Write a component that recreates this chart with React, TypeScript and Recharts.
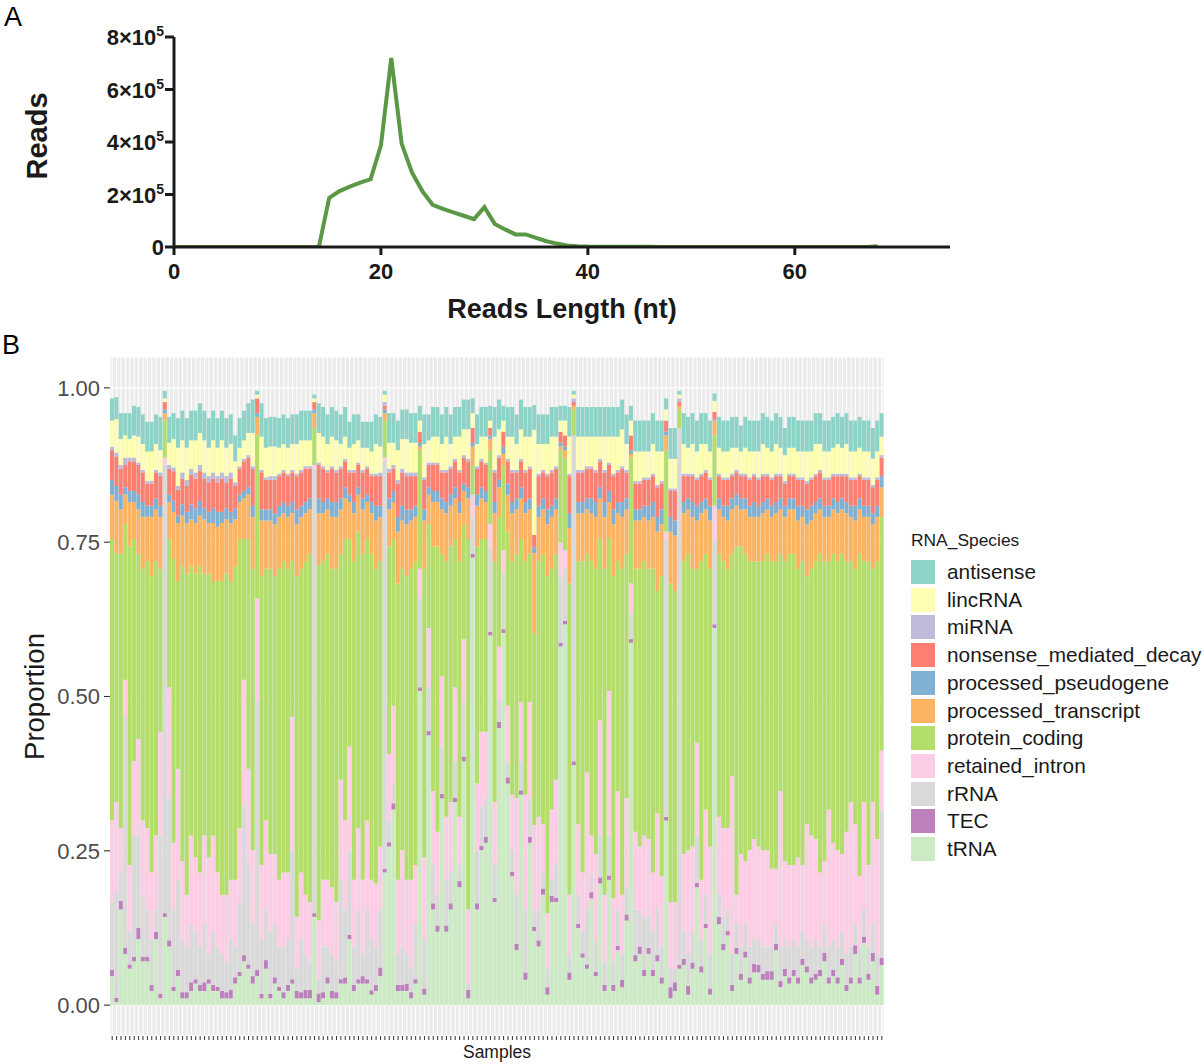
import React from "react";
import { LineChart, Line, XAxis, YAxis, BarChart, Bar, CartesianGrid, Legend } from "recharts";

const FONT = '"Liberation Sans", Arial, Helvetica, sans-serif';

// ---- panel A: read length distribution ----
const readLengths = [
  0, 1, 2, 3, 4, 5, 6, 7, 8, 9, 10, 11, 12, 13, 14, 15, 16, 17, 18, 19, 20, 21, 22, 23, 24, 25, 26, 27, 28, 29, 30, 31, 32, 33,
  34, 35, 36, 37, 38, 39, 40, 41, 42, 43, 44, 45, 46, 47, 48, 49, 50, 51, 52, 53, 54, 55, 56, 57, 58, 59, 60, 61, 62, 63, 64,
  65, 66, 67, 68,
];
const readCounts = [
  0, 0, 0, 0, 0, 0, 0, 0, 0, 0, 0, 0, 0, 0, 0, 187000, 213000, 230000, 245000, 258000, 387000, 720000, 394000, 284000, 213000,
  161000, 145000, 132000, 119000, 106000, 152000, 88000, 67000, 48000, 48000, 35000, 22000, 13000, 6000, 3000, 1500, 1200, 1000,
  800, 700, 600, 500, 450, 400, 350, 300, 300, 250, 250, 200, 200, 200, 150, 150, 150, 100, 100, 100, 100, 100, 100, 100, 100,
  3000,
];
const xTicksA = [0, 20, 40, 60];
const yTicksA = [0, 200000, 400000, 600000, 800000];

// ---- panel B: RNA species proportion per sample (percent) ----
const tRNA = [
  4.7, 0.5, 15.5, 8.3, 5.9, 7.1, 10.7, 7.1, 7.1, 2.3,
  10.7, 1.1, 14.3, 9.5, 2.3, 4.7, 1.1, 1.1, 2.3, 3.5,
  2.3, 2.3, 3.5, 2.3, 2.3, 1.1, 1.1, 1.1, 3.5, 4.7,
  7.1, 5.9, 3.5, 4.7, 1.1, 5.9, 1.1, 3.5, 2.3, 1.1,
  2.3, 3.5, 1.1, 1.1, 1.1, 1.1, 14.3, 0.5, 1.1, 3.5,
  1.1, 1.1, 3.5, 3.5, 10.7, 2.3, 3.5, 3.5, 3.5, 1.7,
  2.3, 4.7, 21.5, 25.7, 31.7, 2.3, 2.3, 2.3, 1.1, 3.5,
  50.9, 1.7, 43.7, 15.5, 11.9, 33.5, 11.9, 15.5, 32.9, 19.1,
  39.5, 1.1, 72.5, 15.5, 25.1, 26.3, 59.9, 16.7, 44.9, 60.3,
  35.9, 20.9, 8.9, 34.1, 4.1, 26.3, 12, 9.5, 17.9, 1.7,
  16.7, 16.7, 58.1, 61.7, 4.1, 38.9, 12.5, 7.7, 5.9, 17.3,
  4.7, 19.7, 2.3, 20.3, 2.3, 8.9, 2.9, 13.7, 58.7, 7.1,
  8.3, 4.7, 8.3, 4.7, 7.1, 3.5, 29.9, 1.1, 2.3, 5.9,
  6.5, 1.7, 5.9, 19.1, 5.3, 12.5, 1.7, 61.1, 13.1, 8.9,
  11.3, 2.3, 8.3, 4.1, 7.7, 3.5, 5.3, 5.3, 4.1, 4.1,
  4.1, 8.9, 2.9, 4.7, 3.5, 4.7, 3.5, 6.5, 5.3, 3.5,
  4.1, 4.7, 7.1, 3.5, 4.7, 3.5, 6.5, 2.3, 3.5, 8.3,
  3.5, 10.1, 4.1, 7.1, 1.7, 6.5,
];
const TEC = [
  1.0, 0.7, 1.4, 1.0, 0.7, 0.7, 1.8, 0.7, 0.7, 1.0,
  1.2, 0.7, 0.6, 1.0, 0.7, 1.0, 1.0, 1.0, 1.4, 0.7,
  1.0, 1.4, 0.7, 1.0, 0.7, 1.2, 1.0, 1.4, 1.0, 0.7,
  1.0, 0.7, 1.2, 1.0, 0.7, 1.4, 0.7, 1.0, 0.7, 1.0,
  1.0, 0.7, 1.2, 1.0, 1.4, 1.4, 0.6, 1.4, 1.0, 1.0,
  1.2, 1.0, 0.7, 1.0, 0.7, 1.0, 0.7, 1.2, 0.7, 0.7,
  1.0, 1.4, 0.6, 0.7, 1.0, 1.0, 1.0, 1.2, 1.0, 0.7,
  0.6, 1.0, 0.7, 1.0, 1.0, 0.7, 1.0, 1.0, 0.7, 1.0,
  0.7, 1.4, 0.6, 1.0, 0.7, 1.0, 0.6, 0.7, 1.0, 0.6,
  1.0, 0.7, 1.0, 0.7, 1.2, 1.0, 0.7, 1.0, 1.0, 1.2,
  1.0, 0.7, 0.6, 0.6, 1.2, 0.6, 0.7, 0.7, 0.7, 1.0,
  0.7, 1.0, 1.0, 0.7, 1.0, 0.7, 1.2, 1.0, 0.6, 1.0,
  1.2, 1.0, 1.0, 1.0, 1.0, 1.0, 0.6, 1.8, 1.4, 0.6,
  1.0, 1.4, 1.0, 0.7, 1.0, 0.7, 1.0, 0.6, 1.2, 1.0,
  0.7, 1.0, 1.0, 1.0, 1.0, 1.0, 1.4, 1.2, 1.0, 1.4,
  1.4, 1.0, 1.0, 1.2, 1.0, 1.0, 1.0, 1.0, 1.0, 1.0,
  1.0, 1.0, 1.4, 1.0, 1.0, 1.0, 1.0, 1.0, 1.0, 1.4,
  1.0, 1.0, 1.0, 1.4, 1.4, 1.2,
];
const rRNA = [
  11.0, 17.3, 4.6, 37.4, 5.3, 19.7, 15.0, 10.1, 7.7, 7.4,
  3.6, 25.7, 72.6, 23.0, 12.5, 14.6, 8.6, 7.4, 9.4, 7.7,
  6.2, 9.4, 4.1, 8.6, 6.5, 6.0, 5.0, 8.2, 5.0, 11.3,
  24.2, 16.1, 8.4, 43.4, 8.9, 8.2, 10.1, 8.6, 6.5, 7.4,
  7.4, 20.9, 3.6, 8.6, 5.8, 4.6, 72.0, 2.2, 7.4, 5.0,
  6.0, 5.0, 16.1, 11.0, 13.7, 6.2, 11.3, 3.6, 11.3, 8.3,
  6.2, 9.4, 66.0, 3.5, 3.2, 5.0, 6.2, 4.8, 3.8, 8.9,
  14.4, 8.0, 7.1, 6.2, 5.0, 7.7, 7.4, 5.0, 5.9, 2.6,
  8.9, 1.0, 6.0, 8.6, 6.5, 6.2, 13.8, 5.3, 3.2, 9.2,
  2.6, 3.5, 8.0, 4.7, 10.2, 6.2, 2.5, 5.0, 2.6, 3.0,
  2.6, 5.3, 10.8, 8.4, 3.0, 52.8, 4.7, 3.5, 8.9, 3.2,
  5.3, 6.8, 3.8, 6.5, 3.8, 5.9, 4.2, 4.4, 4.2, 7.4,
  6.0, 8.6, 5.0, 6.2, 7.4, 5.0, 45.0, 3.0, 2.2, 87.0,
  4.4, 5.2, 5.0, 7.7, 4.4, 4.7, 5.6, 13.8, 3.6, 4.4,
  3.5, 5.0, 3.8, 4.4, 4.4, 5.0, 4.0, 4.2, 4.4, 4.0,
  4.0, 3.2, 5.6, 4.8, 5.0, 5.0, 5.0, 4.4, 4.4, 5.0,
  5.6, 3.8, 4.6, 5.0, 5.0, 5.0, 4.4, 5.0, 5.0, 3.4,
  5.0, 4.4, 4.4, 4.6, 5.2, 24.0,
];
const retainedIntron = [
  13.2, 14.4, 7.2, 6, 10.8, 12, 15.6, 12, 13.2, 10.8,
  12, 16.8, 1.2, 18, 10.8, 18, 12.6, 8.4, 14.4, 12,
  12, 14.4, 15.6, 15.6, 12, 9.6, 10.8, 9.6, 10.8, 12,
  20.4, 15.6, 12, 16.8, 12, 14.4, 12.6, 11.4, 10.8, 12,
  10.8, 21.6, 8.4, 10.8, 9.6, 9.6, 0.6, 9.6, 10.8, 10.8,
  10.8, 9.6, 16.2, 14.4, 16.8, 10.8, 13.2, 12, 14.4, 9.6,
  10.2, 10.2, 0.6, 10.8, 12.6, 12, 15.6, 12, 14.4, 9.6,
  4.8, 13.2, 9.6, 12, 10.2, 11.4, 10.2, 11.4, 12, 7.8,
  10.2, 12, 3.6, 10.8, 12, 10.8, 3.6, 10.2, 9, 3.6,
  9, 9, 15.6, 9.6, 18.6, 15.6, 14, 15, 7.8, 9,
  11.4, 13.8, 5.4, 3, 9.6, 0, 11.4, 9.6, 22.2, 6,
  13.8, 18.6, 10.8, 23.4, 10.2, 19.2, 9.6, 14.4, 4.8, 12.6,
  10.2, 13.2, 12.6, 9.6, 15.6, 11.4, 1.2, 10.8, 10.8, 0,
  12.6, 16.8, 13.8, 15, 9.6, 13.8, 17.4, 5.4, 12.6, 14.4,
  13.2, 28.8, 4.8, 15, 10.2, 15.6, 16.2, 15, 15.6, 15.6,
  12.6, 9, 25.2, 12.6, 13.2, 12, 14.4, 10.8, 18.6, 18,
  16.2, 12, 10.2, 22.2, 15.6, 15.6, 12.6, 19.8, 23.4, 16.2,
  11.4, 17.4, 13.2, 19.8, 18.6, 9.6,
];
const proteinCoding = [
  45.6, 40.4, 44.4, 25.2, 51.6, 36, 30, 40.8, 43.2, 48,
  44.4, 26.4, 6, 24, 46, 30.4, 47.8, 52, 43.6, 46,
  49.6, 42.4, 46, 41.2, 47.2, 50.8, 52, 48.4, 50.8, 46.8,
  22.8, 37.2, 45.6, 26.4, 46.8, 40.8, 46.2, 45, 50.4, 50.4,
  49.2, 25.2, 55.2, 49.2, 54, 56.4, 6, 57.6, 51.6, 52.8,
  51.6, 54, 36.6, 45.6, 33.6, 51.6, 48, 52.8, 45.6, 52.8,
  51, 46.2, 6, 33.6, 27, 48, 45.6, 49.2, 50.4, 49.2,
  19.2, 46.8, 16.8, 39.6, 46.2, 19.8, 41.4, 41.4, 24, 41.4,
  18.6, 60, 4.8, 38.4, 31.2, 31.2, 12, 39, 21, 13.8,
  28.2, 37.8, 39.6, 26.4, 37.8, 24, 31, 41.4, 43.8, 54.6,
  39, 36.6, 15, 15, 50.4, 4.2, 42.6, 50.4, 35.4, 44.4,
  46.2, 29.4, 52.8, 24.6, 52.2, 37.2, 52.8, 39.6, 20.4, 42.6,
  45, 44.4, 43.8, 49.2, 36, 48.6, 13.2, 51.6, 50.4, 3,
  47.4, 48, 45, 28.2, 51.6, 41.4, 45, 11.4, 42.6, 43.2,
  42, 36, 56.4, 49.8, 49.8, 46.8, 45, 46.2, 46.8, 48,
  49.8, 49.8, 38.4, 48.6, 50.4, 50.4, 46.8, 49.2, 40.2, 43.2,
  45, 51.6, 48.6, 40.2, 46.8, 46.8, 48.6, 43.8, 39, 41.4,
  52.2, 39, 49.2, 37.8, 45, 37.8,
];
const processedTranscript = [
  7.2, 8.4, 7.2, 4.8, 7.2, 6, 7.2, 8.4, 7.2, 9.6,
  8.4, 8.4, 1.2, 6, 7.6, 9.4, 8.2, 8.2, 7.6, 8.2,
  8.2, 8.8, 8.2, 9.4, 8.8, 9.4, 8.8, 9.4, 7.6, 6,
  6.6, 7.2, 8.4, 3, 9, 7.8, 7.8, 8.4, 8.4, 7.8,
  8.4, 7.8, 8.4, 8.4, 7.8, 7.2, 2.4, 8.4, 7.8, 7.2,
  8.4, 8.4, 7.2, 6.6, 6, 7.8, 6, 7.2, 6, 6.6,
  7.8, 7.2, 1.2, 6, 6, 8.4, 7.8, 8.4, 7.8, 7.2,
  0.6, 7.8, 4.8, 7.2, 7.2, 7.2, 7.8, 6.6, 6.6, 7.8,
  5.4, 6.6, 3, 6.6, 6.6, 6, 1.8, 7.8, 4.8, 1.8,
  6, 7.8, 7.2, 6.6, 7.8, 7.2, 13, 7.2, 7.2, 8.4,
  8.4, 7.2, 0.6, 1.2, 9, 0.6, 7.8, 7.8, 7.2, 7.8,
  8.4, 6.6, 8.4, 6, 8.4, 7.8, 8.4, 7.2, 0.6, 7.8,
  7.8, 7.2, 7.8, 8.4, 9.6, 8.4, 2.4, 8.4, 9, 0.6,
  7.8, 7.2, 8.4, 7.8, 7.8, 7.2, 7.8, 2.4, 7.2, 7.2,
  7.8, 7.2, 6.6, 6, 7.2, 7.2, 7.2, 7.2, 7.8, 7.2,
  7.2, 7.8, 7.2, 7.2, 7.2, 7.2, 7.8, 7.2, 8.4, 7.8,
  7.8, 7.2, 7.2, 7.2, 7.2, 7.8, 7.2, 7.8, 7.2, 7.8,
  7.2, 7.2, 7.2, 7.2, 7.2, 4.8,
];
const processedPseudogene = [
  2.4, 2.4, 2.4, 1.2, 1.8, 1.8, 2.4, 2.4, 1.8, 1.8,
  1.8, 1.8, 0.6, 1.2, 1.8, 1.2, 1.8, 1.8, 2.4, 2.4,
  2.4, 1.8, 1.8, 2.4, 2.4, 1.8, 1.8, 1.8, 1.8, 1.2,
  1.2, 1.2, 1.8, 0.6, 1.8, 1.8, 1.8, 1.8, 1.8, 1.8,
  1.8, 1.8, 2.4, 1.8, 1.8, 1.8, 0.6, 2.4, 1.8, 1.8,
  2.4, 2.4, 1.8, 1.8, 1.2, 1.8, 1.2, 1.8, 1.2, 1.8,
  2.4, 1.8, 0.6, 1.8, 1.8, 2.4, 2.4, 2.4, 1.8, 1.8,
  0.6, 1.8, 1.2, 1.8, 1.8, 1.8, 1.8, 1.8, 1.8, 1.8,
  1.2, 1.8, 0.6, 1.8, 1.8, 1.8, 0.6, 1.8, 1.2, 1.2,
  1.8, 1.8, 1.8, 1.8, 1.8, 1.8, 1, 1.8, 1.8, 2.4,
  1.8, 1.8, 0.6, 0.6, 2.4, 0, 1.8, 1.8, 1.8, 2.4,
  2.4, 1.8, 2.4, 1.8, 2.4, 1.8, 2.4, 1.8, 0.6, 1.8,
  1.8, 1.8, 2.4, 2.4, 2.4, 2.4, 0.6, 2.4, 2.4, 0,
  1.8, 1.8, 2.4, 2.4, 1.8, 1.8, 2.4, 0.2, 1.8, 1.8,
  2.4, 1.8, 1.8, 1.8, 1.8, 1.8, 2.4, 1.8, 1.8, 1.8,
  1.8, 1.8, 1.8, 1.8, 1.8, 1.8, 2.4, 1.8, 2.4, 2.4,
  1.8, 1.8, 1.8, 1.8, 1.8, 1.8, 1.8, 1.8, 1.8, 2.4,
  1.8, 1.8, 1.8, 1.8, 1.8, 1.8,
];
const nonsenseMediatedDecay = [
  4.8, 4.8, 4.2, 3.6, 4.8, 4.8, 4.8, 4.8, 3.6, 3.6,
  4.2, 4.8, 1.2, 4.2, 4.8, 4.2, 4.2, 4.2, 4.8, 4.8,
  4.8, 4.8, 4.8, 4.8, 4.8, 5.4, 4.2, 5.4, 3.6, 4.2,
  4.8, 4.8, 6, 2.4, 6, 4.8, 4.8, 5.4, 4.8, 4.8,
  4.8, 4.8, 5.4, 5.4, 5.4, 4.8, 1.2, 5.4, 5.4, 4.2,
  5.4, 4.8, 4.8, 4.2, 3.6, 4.8, 3.6, 4.2, 4.2, 4.2,
  4.8, 4.8, 0.6, 4.2, 3.6, 5.4, 5.4, 5.4, 5.4, 4.8,
  1.8, 4.8, 3.6, 4.2, 4.2, 4.2, 4.8, 4.2, 4.2, 4.8,
  4.2, 4.2, 2.4, 4.2, 4.2, 4.2, 1.2, 4.8, 3.6, 2.4,
  3.6, 4.8, 4.2, 4.2, 4.8, 4.8, 2, 4.8, 4.2, 5.4,
  5.4, 4.8, 1.8, 1.8, 6, 0.6, 4.8, 4.8, 4.8, 4.8,
  4.8, 4.2, 4.8, 4.2, 5.4, 4.8, 5.4, 4.2, 2.4, 4.2,
  4.2, 4.2, 4.2, 4.2, 4.8, 4.2, 1.8, 4.2, 4.8, 0.6,
  4.2, 3.6, 4.2, 4.2, 4.2, 4.2, 4.2, 1.2, 3.6, 4.2,
  4.2, 3.6, 3.6, 3.6, 3.6, 4.2, 4.2, 4.2, 4.2, 3.6,
  4.2, 4.2, 3.6, 3.6, 3.6, 3.6, 4.2, 4.2, 4.2, 4.2,
  4.2, 4.2, 4.2, 4.2, 3.6, 4.2, 3.6, 4.2, 4.2, 4.2,
  3.6, 4.2, 4.2, 4.2, 4.2, 3,
];
const miRNA = [
  0.6, 0.6, 0.6, 1.2, 0.6, 0.6, 0.4, 0.4, 0.4, 0.4,
  0.4, 0.6, 0, 0.6, 0.6, 0.6, 1, 1, 1, 1,
  1, 1, 1, 1, 1, 1, 1, 1, 0.6, 0.4,
  0.4, 0.4, 0.4, 0, 0.4, 0.4, 0.6, 0.6, 0.4, 0.4,
  0.4, 0.4, 0.4, 0.4, 0.4, 0.4, 0, 0.4, 0.4, 0.4,
  0.4, 0.4, 0.4, 0.4, 0.4, 0.4, 0.4, 0.4, 0.4, 0.4,
  0.4, 0.6, 0.6, 0.6, 0.6, 0.6, 0.6, 0.6, 0.6, 0.6,
  0, 0.4, 0.4, 0.4, 0.4, 0.4, 0.4, 0.4, 0.4, 0.4,
  0.4, 0.4, 0, 0.4, 0.4, 0.4, 0, 0.4, 0.4, 0,
  0.4, 0.4, 0.4, 0.4, 0.4, 0.4, 0, 0.4, 0.4, 0.4,
  0.4, 0.4, 0, 0, 0.4, 0.6, 0.4, 0.4, 0.4, 0.4,
  0.4, 0.4, 0.4, 0.4, 0.4, 0.4, 0.4, 0.4, 0, 0.4,
  0.4, 0.4, 0.4, 0.4, 0.4, 0.4, 0, 0.4, 0.4, 0.6,
  0.4, 0.4, 0.4, 0.4, 0.4, 0.4, 0.4, 0, 0.4, 0.4,
  0.4, 0.4, 0.4, 0.4, 0.4, 0.4, 0.4, 0.4, 0.4, 0.4,
  0.4, 0.4, 0.4, 0.4, 0.4, 0.4, 0.4, 0.4, 0.4, 0.4,
  0.4, 0.4, 0.4, 0.4, 0.4, 0.4, 0.4, 0.4, 0.4, 0.4,
  0.4, 0.4, 0.4, 0.4, 0.4, 0.4,
];
const lincRNA = [
  4.2, 5.4, 4.2, 3.6, 3, 3.6, 4.2, 4.2, 4.8, 4.8,
  4.2, 3.6, 0.6, 3.6, 4.6, 6.2, 5.2, 5.2, 4.6, 5.2,
  5.2, 5.2, 4.6, 5.2, 4.6, 5.2, 4.6, 4.6, 3.4, 3,
  3, 3.6, 5.4, 0.6, 5.4, 4.8, 4.8, 4.8, 4.2, 4.2,
  4.2, 4.2, 4.8, 4.8, 4.2, 4.2, 0.6, 4.8, 4.8, 4.2,
  4.8, 4.8, 3.6, 3.6, 3.6, 4.2, 3.6, 3.6, 3, 3.6,
  4.8, 4.2, 1.2, 4.2, 3.6, 4.8, 4.8, 5.4, 4.8, 4.8,
  1.8, 5.4, 3.6, 4.2, 4.2, 4.2, 5.4, 3.6, 3.6, 5.4,
  4.2, 4.8, 2.4, 3.6, 3.6, 4.2, 1.2, 5.4, 4.2, 1.8,
  3.6, 5.4, 4.2, 4.8, 5.4, 4.8, 17, 4.8, 4.2, 4.8,
  5.4, 4.8, 1.8, 2.4, 6, 0.6, 5.4, 5.4, 4.8, 4.8,
  5.4, 3.6, 5.4, 4.2, 6, 5.4, 6, 4.2, 2.4, 4.8,
  4.8, 4.2, 4.2, 4.8, 5.4, 4.8, 1.8, 4.8, 4.8, 0.6,
  4.8, 4.2, 4.8, 4.2, 4.8, 4.2, 4.2, 1.8, 4.2, 4.2,
  4.2, 4.2, 3.6, 3.6, 4.2, 4.2, 3.6, 4.2, 4.8, 4.2,
  4.2, 4.8, 4.2, 4.2, 4.2, 4.2, 4.2, 4.2, 4.8, 4.2,
  4.8, 4.2, 4.2, 4.2, 4.2, 4.8, 4.2, 4.8, 4.2, 4.2,
  4.2, 4.2, 4.2, 4.2, 4.2, 3,
];
const antisense = [
  3.6, 3.6, 4.2, 3.6, 4.2, 4.8, 4.8, 4.8, 4.8, 4.8,
  4.8, 5.4, 1.2, 4.2, 4.2, 4.8, 4.8, 4.8, 4.8, 4.8,
  4.8, 4.8, 4.8, 4.8, 4.8, 4.8, 4.8, 4.8, 4.2, 4.8,
  4.8, 4.8, 5.4, 0.6, 5.4, 4.8, 4.8, 4.8, 4.8, 4.8,
  4.8, 4.8, 4.8, 4.8, 4.8, 4.8, 0.6, 4.8, 4.8, 4.8,
  4.8, 4.8, 4.8, 4.8, 4.2, 4.8, 4.2, 4.2, 4.2, 4.8,
  4.8, 4.8, 0.6, 4.8, 4.8, 4.8, 4.8, 4.8, 4.8, 4.8,
  2.4, 4.8, 4.2, 4.8, 4.8, 4.8, 4.8, 4.8, 4.8, 4.8,
  4.8, 4.8, 2.4, 4.8, 4.8, 4.8, 2.4, 4.8, 4.8, 2.4,
  4.8, 4.8, 4.8, 4.8, 4.8, 4.8, 4, 4.8, 4.8, 4.8,
  4.8, 4.8, 2.4, 2.4, 4.8, 0.6, 4.8, 4.8, 4.8, 4.8,
  4.8, 4.8, 4.8, 4.8, 4.8, 4.8, 4.8, 4.8, 2.4, 5,
  5, 5, 5, 5, 5, 5, 1.8, 5, 5, 0.6,
  5, 5, 5, 5, 5, 5, 5, 1.2, 5, 5,
  5, 5, 5, 4.2, 5, 5, 5, 5, 5, 5,
  5, 5, 5, 4.4, 5, 5, 5, 5, 5, 5,
  5, 5, 5, 5, 5, 5, 5, 5, 5, 5,
  5, 5, 5, 5, 5, 3.8,
];

// bottom of the stack first
const stackOrder = [
  "tRNA", "TEC", "rRNA", "retained_intron", "protein_coding", "processed_transcript",
  "processed_pseudogene", "nonsense_mediated_decay", "miRNA", "lincRNA", "antisense",
];
const legendOrder = [
  "antisense", "lincRNA", "miRNA", "nonsense_mediated_decay", "processed_pseudogene",
  "processed_transcript", "protein_coding", "retained_intron", "rRNA", "TEC", "tRNA",
];
const seriesValues: Record<string, number[]> = {
  tRNA, TEC, rRNA,
  retained_intron: retainedIntron,
  protein_coding: proteinCoding,
  processed_transcript: processedTranscript,
  processed_pseudogene: processedPseudogene,
  nonsense_mediated_decay: nonsenseMediatedDecay,
  miRNA, lincRNA, antisense,
};
const colors: Record<string, string> = {
  antisense: "#8DD3C7",
  lincRNA: "#FFFFB3",
  miRNA: "#BEBADA",
  nonsense_mediated_decay: "#FB8072",
  processed_pseudogene: "#80B1D3",
  processed_transcript: "#FDB462",
  protein_coding: "#B3DE69",
  retained_intron: "#FCCDE5",
  rRNA: "#D9D9D9",
  TEC: "#BC80BD",
  tRNA: "#CCEBC5",
};
const yTicksB = [0, 0.25, 0.5, 0.75, 1];

const lengthData = readLengths.map((len, i) => ({ len, reads: readCounts[i] }));
const sampleIds = tRNA.map((_, i) => `S${i + 1}`);
const sampleRows = sampleIds.map((sample, i) => {
  const row: Record<string, string | number> = { sample };
  stackOrder.forEach((k) => {
    row[k] = seriesValues[k][i] / 100;
  });
  return row;
});

const XTickA = ({ x, y, payload }: any) => (
  <text x={x} y={y} dy={22} textAnchor="middle" fontFamily={FONT} fontWeight="bold" fontSize={22} fill="#1a1a1a">
    {payload.value}
  </text>
);

const YTickA = ({ x, y, payload }: any) => {
  const v = payload.value;
  if (v === 0) {
    return (
      <text x={x} y={y} dy={8} textAnchor="end" fontFamily={FONT} fontWeight="bold" fontSize={22} fill="#1a1a1a">
        0
      </text>
    );
  }
  return (
    <text x={x} y={y} dy={8} textAnchor="end" fontFamily={FONT} fontWeight="bold" fontSize={22} fill="#1a1a1a">
      <tspan>{`${v / 100000}×10`}</tspan>
      <tspan dy={-9} fontSize={14}>5</tspan>
    </text>
  );
};

const RNALegend = () => (
  <div style={{ position: "relative", width: 293, height: 330, fontFamily: FONT, color: "#1a1a1a" }}>
    <div style={{ position: "absolute", left: 0, top: 0, fontSize: 17.4, lineHeight: "17px", whiteSpace: "nowrap" }}>
      RNA_Species
    </div>
    {legendOrder.map((name, k) => (
      <div
        key={name}
        style={{ position: "absolute", left: 0, top: 28 + 27.7 * k, height: 24, display: "flex", alignItems: "center" }}
      >
        <div style={{ width: 24, height: 24, background: colors[name] }} />
        <span style={{ marginLeft: 12, fontSize: 20.8, whiteSpace: "nowrap" }}>{name}</span>
      </div>
    ))}
  </div>
);

export default function App() {
  return (
    <div style={{ position: "relative", width: 1204, height: 1064, background: "#ffffff", fontFamily: FONT }}>
      <style>{"body{margin:0;background:#fff}"}</style>
      <div style={{ position: "absolute", left: 4, top: 2, fontSize: 27, lineHeight: "30px" }}>A</div>
      <div style={{ position: "absolute", left: 2, top: 330, fontSize: 27, lineHeight: "30px" }}>B</div>

      <div style={{ position: "absolute", left: 0, top: 0 }}>
        <LineChart width={1000} height={330} data={lengthData} margin={{ top: 37, right: 50, bottom: 0, left: 0 }}>
          <XAxis
            dataKey="len"
            type="number"
            domain={[0, 75]}
            ticks={xTicksA}
            allowDataOverflow
            height={83}
            axisLine={{ stroke: "#1a1a1a", strokeWidth: 3 }}
            tickLine={{ stroke: "#1a1a1a", strokeWidth: 3 }}
            tickSize={8}
            tickMargin={2}
            tick={(p: any) => <XTickA {...p} />}
            label={() => (
              <text x={562} y={318} textAnchor="middle" fontFamily={FONT} fontWeight="bold" fontSize={27} fill="#1a1a1a">
                Reads Length (nt)
              </text>
            )}
          />
          <YAxis
            type="number"
            domain={[0, 800000]}
            ticks={yTicksA}
            allowDataOverflow
            width={174}
            axisLine={{ stroke: "#1a1a1a", strokeWidth: 3 }}
            tickLine={{ stroke: "#1a1a1a", strokeWidth: 3 }}
            tickSize={9}
            tickMargin={1}
            tick={(p: any) => <YTickA {...p} />}
            label={() => (
              <text
                x={47}
                y={136}
                transform="rotate(-90 47 136)"
                textAnchor="middle"
                fontFamily={FONT}
                fontWeight="bold"
                fontSize={29}
                fill="#1a1a1a"
              >
                Reads
              </text>
            )}
          />
          <Line dataKey="reads" type="linear" stroke="#5a9845" strokeWidth={4} dot={false} isAnimationActive={false} />
        </LineChart>
      </div>

      <div style={{ position: "absolute", left: 0, top: 330 }}>
        <BarChart
          width={1204}
          height={734}
          data={sampleRows}
          margin={{ top: 27, right: 320, bottom: 0, left: 0 }}
          barCategoryGap={0}
          barGap={0}
        >
          <CartesianGrid fill="#EBEBEB" stroke="#FFFFFF" strokeWidth={1.1} />
          <XAxis
            dataKey="sample"
            interval={0}
            height={28}
            axisLine={false}
            tickLine={{ stroke: "#333333", strokeWidth: 1 }}
            tickSize={4}
            tick={() => <g />}
            label={() => (
              <text x={497} y={728} textAnchor="middle" fontFamily={FONT} fontSize={17.5} fill="#1a1a1a">
                Samples
              </text>
            )}
          />
          <YAxis
            type="number"
            domain={[-0.05, 1.05]}
            ticks={yTicksB}
            allowDataOverflow
            width={110}
            axisLine={false}
            tickLine={{ stroke: "#333333", strokeWidth: 1.1 }}
            tickSize={6}
            tickMargin={4}
            tickFormatter={(v: number) => v.toFixed(2)}
            tick={{ fill: "#4D4D4D", fontSize: 22, fontFamily: FONT }}
            label={() => (
              <text
                x={44}
                y={366.5}
                transform="rotate(-90 44 366.5)"
                textAnchor="middle"
                fontFamily={FONT}
                fontSize={27.5}
                fill="#1a1a1a"
              >
                Proportion
              </text>
            )}
          />
          {stackOrder.map((k) => (
            <Bar key={k} dataKey={k} stackId="rna" fill={colors[k]} isAnimationActive={false} />
          ))}
          <Legend
            layout="vertical"
            align="center"
            verticalAlign="middle"
            wrapperStyle={{ left: 911, top: 202, width: 293 }}
            content={() => <RNALegend />}
          />
        </BarChart>
      </div>
    </div>
  );
}
